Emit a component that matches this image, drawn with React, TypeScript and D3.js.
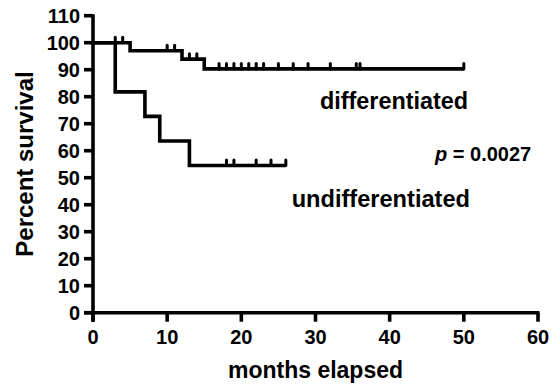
import React from "react";
import * as d3 from "d3";

// Kaplan–Meier step points: [months, percent surviving]
const differentiatedSteps: [number, number][] = [
  [0, 100], [5, 97], [12, 93.9], [15, 90.3], [50, 90.3],
];
const undifferentiatedSteps: [number, number][] = [
  [0, 100], [3, 81.8], [7, 72.7], [9, 63.6], [13, 54.5], [26, 54.5],
];
// Censored observations (months)
const differentiatedCensored = [3, 4, 10, 11, 13, 14, 17, 18, 19, 20, 21, 22, 23, 25, 27, 29, 32, 35.5, 36, 50];
const undifferentiatedCensored = [18, 19, 22, 24, 26];

const xTicks = [0, 10, 20, 30, 40, 50, 60];
const yTicks = [0, 10, 20, 30, 40, 50, 60, 70, 80, 90, 100, 110];

const W = 553;
const H = 385;
const FONT = "'Liberation Sans', Arial, Helvetica, sans-serif";

function survivalAt(steps: [number, number][], t: number): number {
  let s = steps[0][1];
  for (const [time, v] of steps) {
    if (time <= t) s = v;
  }
  return s;
}

export default function App() {
  const x = d3.scaleLinear().domain([0, 60]).range([93, 538]);
  const y = d3.scaleLinear().domain([0, 110]).range([312.7, 15.7]);

  const line = d3
    .line<[number, number]>()
    .x((d) => x(d[0]))
    .y((d) => y(d[1]))
    .curve(d3.curveStepAfter);

  const sw = 3.6;
  const tickLen = 9;
  const censorLen = 5.5;

  const curve = (steps: [number, number][], censored: number[], key: string) => (
    <g key={key}>
      <path d={line(steps) || ""} fill="none" stroke="#000" strokeWidth={sw} strokeLinejoin="miter" />
      {censored.map((t, i) => {
        const sv = survivalAt(steps, t);
        return (
          <line
            key={i}
            x1={x(t)}
            x2={x(t)}
            y1={y(sv)}
            y2={y(sv) - censorLen}
            stroke="#000"
            strokeWidth={3}
            strokeLinecap="round"
          />
        );
      })}
    </g>
  );

  return (
    <svg
      width={W}
      height={H}
      style={{ position: "absolute", left: 0, top: 0, background: "#fff" }}
      fontFamily={FONT}
    >
      <rect width={W} height={H} fill="#fff" />
      {/* y axis */}
      <line x1={x(0)} x2={x(0)} y1={y(110) - 1.5} y2={y(0) + tickLen} stroke="#000" strokeWidth={sw} />
      {yTicks.map((v) => (
        <g key={`y${v}`}>
          <line x1={x(0) - tickLen} x2={x(0)} y1={y(v)} y2={y(v)} stroke="#000" strokeWidth={sw} />
          <text
            x={80}
            y={y(v)}
            dy="0.36em"
            textAnchor="end"
            fontSize={20}
            fontWeight="bold"
          >
            {v}
          </text>
        </g>
      ))}
      {/* x axis */}
      <line x1={x(0) - tickLen} x2={x(60) + 1.5} y1={y(0)} y2={y(0)} stroke="#000" strokeWidth={sw} />
      {xTicks.map((v) => (
        <g key={`x${v}`}>
          <line x1={x(v)} x2={x(v)} y1={y(0)} y2={y(0) + tickLen} stroke="#000" strokeWidth={sw} />
          <text x={x(v)} y={344} textAnchor="middle" fontSize={20} fontWeight="bold">
            {v}
          </text>
        </g>
      ))}

      {curve(differentiatedSteps, differentiatedCensored, "diff")}
      {curve(undifferentiatedSteps, undifferentiatedCensored, "undiff")}

      {/* axis titles */}
      <text x={315.5} y={378} textAnchor="middle" fontSize={23} fontWeight="bold">
        months elapsed
      </text>
      <text
        transform={`translate(33, 164) rotate(-90)`}
        textAnchor="middle"
        fontSize={24}
        fontWeight="bold"
      >
        Percent survival
      </text>

      {/* group labels */}
      <text x={320} y={109} fontSize={23.4} fontWeight="bold">
        differentiated
      </text>
      <text x={291.7} y={207.3} fontSize={23.6} fontWeight="bold">
        undifferentiated
      </text>
      <text x={435} y={161} fontSize={20} fontWeight="bold">
        <tspan fontStyle="italic">p</tspan> = 0.0027
      </text>
    </svg>
  );
}
